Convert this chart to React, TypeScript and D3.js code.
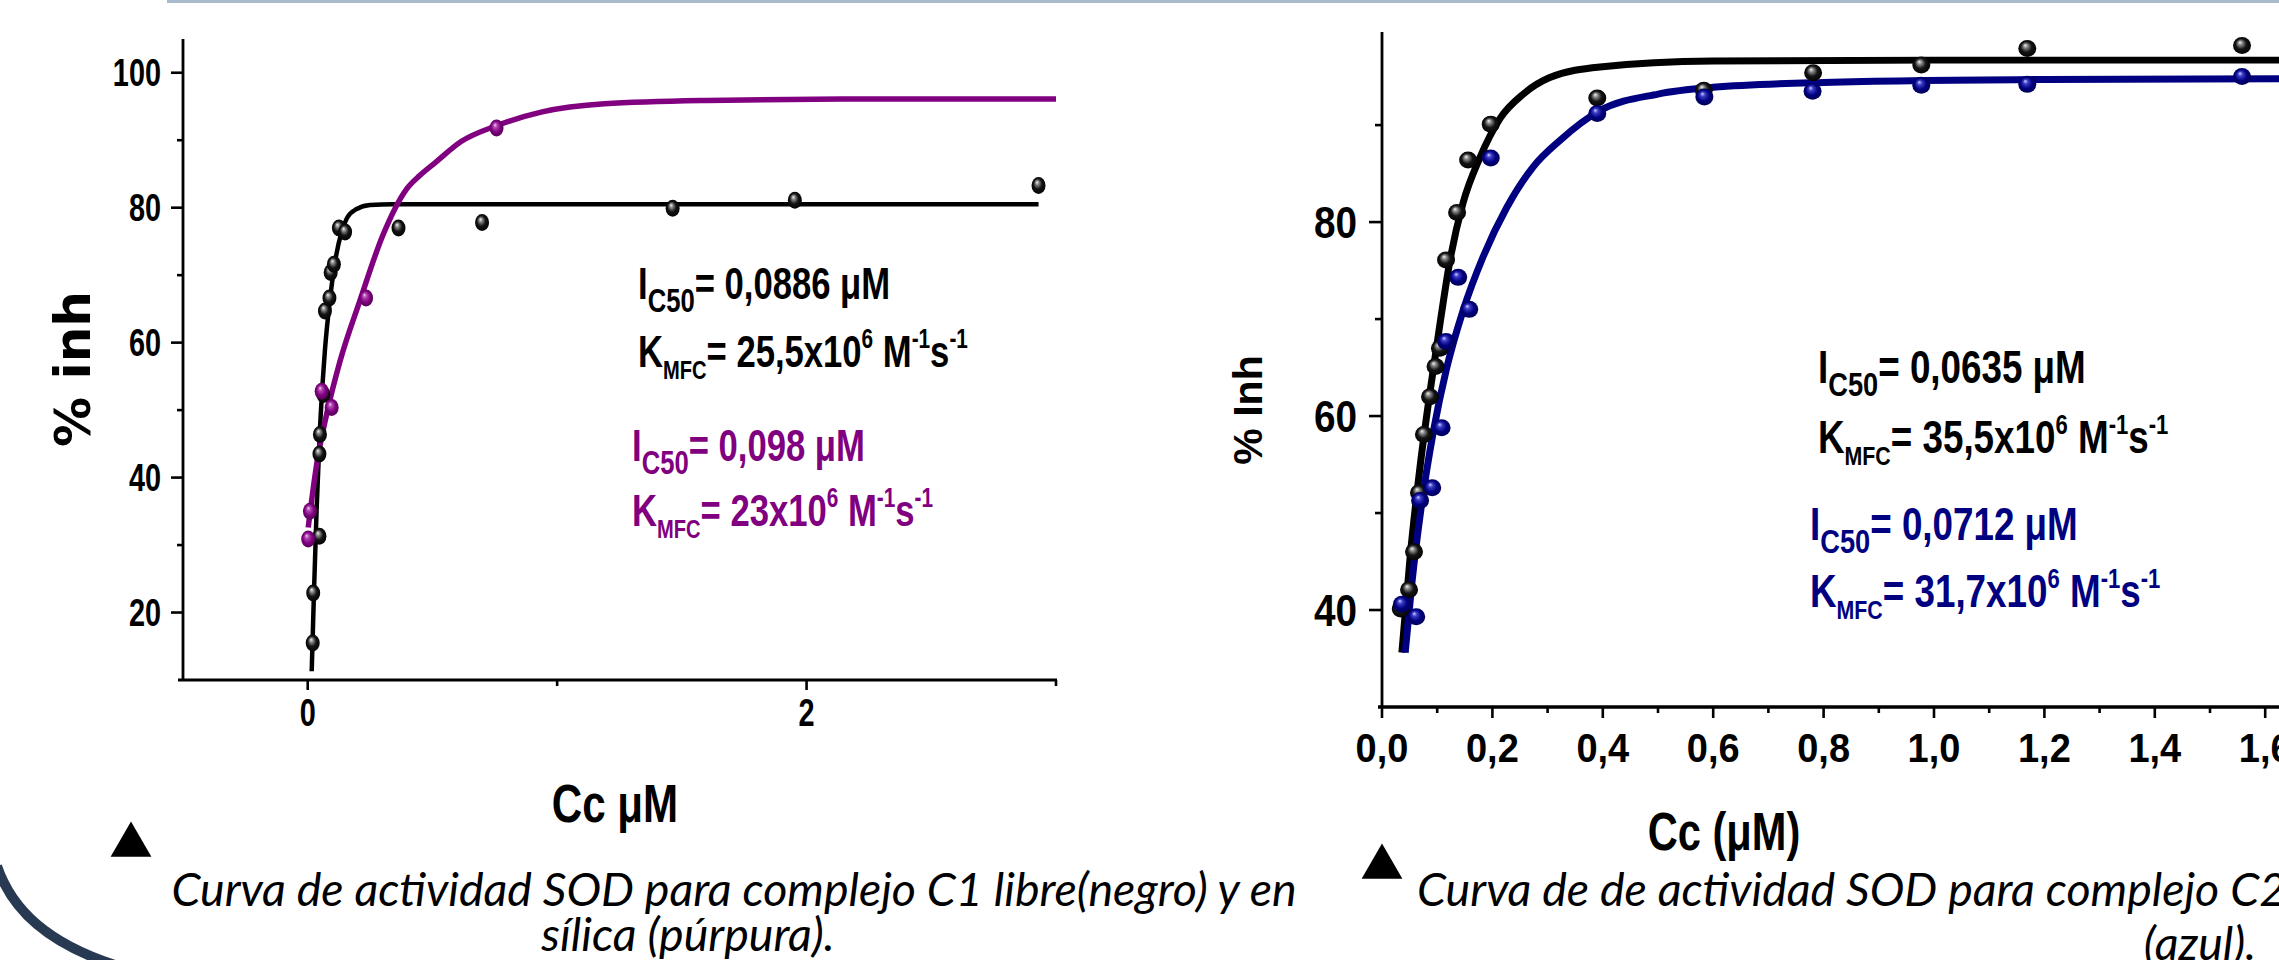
"use client";

import * as d3 from "d3";
import { useEffect, useRef } from "react";

const WIDTH = 2279;
const HEIGHT = 960;
const SANS = "'Liberation Sans', Arial, sans-serif";
const WIDE = "'DejaVu Sans', Verdana, sans-serif";
const CAPTION = "Lato, 'Open Sans', sans-serif";

type Pt = [number, number];
type Part = [string, "base" | "sub" | "small" | "sup"];

// ---- left panel: complejo C1 libre (negro) y en sílica (púrpura)
const leftXMajor = [0, 2];
const leftXMinor = [1, 3];
const leftYMajor = [20, 40, 60, 80, 100];
const leftYMinor = [30, 50, 70, 90];

const c1FreePoints: Pt[] = [
  [0.02, 15.5], [0.022, 22.9], [0.047, 31.3], [0.047, 43.5], [0.049, 46.4],
  [0.063, 52.3], [0.069, 64.7], [0.087, 66.6], [0.092, 70.4], [0.105, 71.6],
  [0.125, 77.0], [0.15, 76.4], [0.364, 77.0], [0.699, 77.8], [1.463, 79.9],
  [1.953, 81.1], [2.93, 83.3],
];
const c1FreeFit: Pt[] = [
  [0.016, 11.3], [0.025, 22.9], [0.036, 35.6], [0.049, 47.2], [0.069, 58.9],
  [0.089, 66.3], [0.113, 72.7], [0.136, 76.4], [0.158, 78.5], [0.196, 79.8],
  [0.25, 80.4], [0.34, 80.5], [2.93, 80.5],
];
const c1SilicaPoints: Pt[] = [
  [0.002, 30.9], [0.009, 35.0], [0.056, 52.8], [0.096, 50.4], [0.234, 66.6],
  [0.757, 91.8],
];
const c1SilicaFit: Pt[] = [
  [0.002, 32.6], [0.036, 42.0], [0.076, 49.4], [0.13, 57.3], [0.21, 66.3],
  [0.3, 75.8], [0.397, 82.8], [0.45, 84.8], [0.515, 86.8], [0.615, 89.8],
  [0.761, 92.2], [0.94, 94.2], [1.19, 95.4], [1.6, 95.9], [2.2, 96.1], [3.0, 96.1],
];

const c1FreeNote: Part[][] = [
  [["I", "base"], ["C50", "sub"], ["= 0,0886 μM", "base"]],
  [["K", "base"], ["MFC", "small"], ["= 25,5x10", "base"], ["6", "sup"], [" M", "base"], ["-1", "sup"], ["s", "base"], ["-1", "sup"]],
];
const c1SilicaNote: Part[][] = [
  [["I", "base"], ["C50", "sub"], ["= 0,098 μM", "base"]],
  [["K", "base"], ["MFC", "small"], ["= 23x10", "base"], ["6", "sup"], [" M", "base"], ["-1", "sup"], ["s", "base"], ["-1", "sup"]],
];

// ---- right panel: complejo C2 libre (negro) y en sílica (azul)
const rightXMajor = [0, 0.2, 0.4, 0.6, 0.8, 1.0, 1.2, 1.4, 1.6];
const rightXMinor = [0.1, 0.3, 0.5, 0.7, 0.9, 1.1, 1.3, 1.5, 1.7];
const rightYMajor = [40, 60, 80];
const rightYMinor = [50, 70, 90];

const c2FreePoints: Pt[] = [
  [0.034, 40.1], [0.049, 42.1], [0.058, 46.0], [0.067, 52.1], [0.076, 58.1],
  [0.087, 62.0], [0.097, 65.1], [0.105, 67.0], [0.116, 76.1], [0.136, 81.0],
  [0.156, 86.4], [0.197, 90.1], [0.39, 92.8], [0.583, 93.6], [0.781, 95.4],
  [0.977, 96.2], [1.169, 97.9], [1.558, 98.2],
];
const c2FreeFit: Pt[] = [
  [0.036, 35.6], [0.051, 45.5], [0.069, 54.8], [0.087, 62.5], [0.105, 69.5],
  [0.123, 76.0], [0.147, 82.0], [0.177, 86.6], [0.214, 90.7], [0.256, 93.2],
  [0.304, 94.9], [0.395, 96.0], [0.6, 96.6], [1.0, 96.7], [1.7, 96.7],
];
const c2SilicaPoints: Pt[] = [
  [0.036, 40.6], [0.062, 39.3], [0.069, 51.3], [0.091, 52.6], [0.108, 58.8],
  [0.116, 67.7], [0.138, 74.3], [0.158, 71.0], [0.197, 86.6], [0.39, 91.2],
  [0.584, 92.9], [0.78, 93.5], [0.977, 94.1], [1.169, 94.2], [1.558, 95.0],
];
const c2SilicaFit: Pt[] = [
  [0.042, 35.6], [0.054, 42.7], [0.072, 51.0], [0.093, 58.4], [0.117, 64.9],
  [0.147, 70.9], [0.183, 76.4], [0.226, 81.5], [0.274, 85.7], [0.322, 88.4],
  [0.395, 91.5], [0.5, 93.2], [0.6, 93.9], [0.8, 94.4], [1.2, 94.7], [1.7, 94.8],
];

const c2FreeNote: Part[][] = [
  [["I", "base"], ["C50", "sub"], ["= 0,0635 μM", "base"]],
  [["K", "base"], ["MFC", "small"], ["= 35,5x10", "base"], ["6", "sup"], [" M", "base"], ["-1", "sup"], ["s", "base"], ["-1", "sup"]],
];
const c2SilicaNote: Part[][] = [
  [["I", "base"], ["C50", "sub"], ["= 0,0712 μM", "base"]],
  [["K", "base"], ["MFC", "small"], ["= 31,7x10", "base"], ["6", "sup"], [" M", "base"], ["-1", "sup"], ["s", "base"], ["-1", "sup"]],
];

const captionLeft = [
  "Curva de actividad SOD para complejo C1 libre(negro) y en",
  "sílica (púrpura).",
];
const captionRight = [
  "Curva de de actividad SOD para complejo C2 libre(negro) y en sílica",
  "(azul).",
];

const partStyle = {
  base: { k: 1, dy: 0 },
  sub: { k: 0.74, dy: 0.28 },
  small: { k: 0.58, dy: 0.26 },
  sup: { k: 0.6, dy: -0.42 },
};

const commaFmt = (v: number) => v.toFixed(1).replace(".", ",");

export default function App() {
  const svgRef = useRef<SVGSVGElement>(null);

  useEffect(() => {
    if (!svgRef.current) return;
    const svg = d3.select(svgRef.current);
    svg.selectAll("*").remove();

    // shiny ball markers
    const defs = svg.append("defs");
    const ball = (id: string, stops: [number, string][]) => {
      const g = defs
        .append("radialGradient")
        .attr("id", id)
        .attr("cx", "50%")
        .attr("cy", "50%")
        .attr("r", "55%")
        .attr("fx", "38%")
        .attr("fy", "30%");
      stops.forEach(([o, c]) => g.append("stop").attr("offset", `${o}%`).attr("stop-color", c));
    };
    ball("ballBlack", [[0, "#f4f4f4"], [22, "#8a8a8a"], [55, "#141414"], [100, "#000"]]);
    ball("ballPurple", [[0, "#f2cdf2"], [25, "#b044b0"], [60, "#800080"], [100, "#4c004c"]]);
    ball("ballBlue", [[0, "#cfcfff"], [25, "#3a3ac4"], [60, "#000080"], [100, "#00004c"]]);

    // page decoration
    svg
      .append("line")
      .attr("x1", 167)
      .attr("x2", WIDTH)
      .attr("y1", 1.5)
      .attr("y2", 1.5)
      .attr("stroke", "#a9bacb")
      .attr("stroke-width", 3);
    svg
      .append("path")
      .attr("d", "M -3 866 C 12 910, 48 944, 118 966")
      .attr("fill", "none")
      .attr("stroke", "#273a52")
      .attr("stroke-width", 10);

    const label = (
      x: number,
      y: number,
      text: string,
      size: number,
      sx: number,
      anchor: string,
      family = SANS
    ) =>
      svg
        .append("text")
        .attr("transform", `translate(${x},${y}) scale(${sx},1)`)
        .attr("text-anchor", anchor)
        .attr("font-family", family)
        .attr("font-weight", 700)
        .attr("font-size", size)
        .attr("fill", "#000")
        .text(text);

    const note = (x: number, y: number, size: number, sx: number, color: string, parts: Part[]) => {
      const t = svg
        .append("text")
        .attr("transform", `translate(${x},0) scale(${sx},1)`)
        .attr("font-family", SANS)
        .attr("font-weight", 700)
        .attr("fill", color);
      parts.forEach(([s, role]) => {
        const st = partStyle[role];
        t.append("tspan")
          .attr("y", y + st.dy * size)
          .attr("font-size", size * st.k)
          .text(s);
      });
    };

    const fitLine = (
      data: Pt[],
      x: d3.ScaleLinear<number, number>,
      y: d3.ScaleLinear<number, number>,
      color: string,
      w: number
    ) =>
      svg
        .append("path")
        .datum(data)
        .attr("fill", "none")
        .attr("stroke", color)
        .attr("stroke-width", w)
        .attr("stroke-linecap", "butt")
        .attr(
          "d",
          d3
            .line<Pt>()
            .x((d) => x(d[0]))
            .y((d) => y(d[1]))
            .curve(d3.curveMonotoneX)
        );

    const dots = (
      data: Pt[],
      x: d3.ScaleLinear<number, number>,
      y: d3.ScaleLinear<number, number>,
      fill: string,
      rx: number,
      ry: number
    ) =>
      svg
        .append("g")
        .selectAll("ellipse")
        .data(data)
        .enter()
        .append("ellipse")
        .attr("cx", (d) => x(d[0]))
        .attr("cy", (d) => y(d[1]))
        .attr("rx", rx)
        .attr("ry", ry)
        .attr("fill", `url(#${fill})`);

    // ===================== left panel =====================
    const xL = d3.scaleLinear().domain([-0.5, 3]).range([183, 1056]);
    const yL = d3.scaleLinear().domain([10, 105]).range([680, 39]);

    const axes = svg.append("g").attr("stroke", "#000").attr("fill", "none");
    axes.append("line").attr("x1", xL(-0.5)).attr("x2", xL(-0.5)).attr("y1", yL(105)).attr("y2", yL(10) + 1).attr("stroke-width", 2.8);
    axes.append("line").attr("x1", xL(-0.5) - 5).attr("x2", xL(3) + 1).attr("y1", yL(10)).attr("y2", yL(10)).attr("stroke-width", 3.2);
    leftYMajor.forEach((v) =>
      axes.append("line").attr("x1", xL(-0.5) - 12).attr("x2", xL(-0.5)).attr("y1", yL(v)).attr("y2", yL(v)).attr("stroke-width", 2.6)
    );
    leftYMinor.forEach((v) =>
      axes.append("line").attr("x1", xL(-0.5) - 6).attr("x2", xL(-0.5)).attr("y1", yL(v)).attr("y2", yL(v)).attr("stroke-width", 2.6)
    );
    leftXMajor.forEach((v) =>
      axes.append("line").attr("x1", xL(v)).attr("x2", xL(v)).attr("y1", yL(10)).attr("y2", yL(10) + 10).attr("stroke-width", 2.6)
    );
    leftXMinor.forEach((v) =>
      axes.append("line").attr("x1", xL(v)).attr("x2", xL(v)).attr("y1", yL(10)).attr("y2", yL(10) + 6).attr("stroke-width", 2.6)
    );
    leftYMajor.forEach((v) => label(161, yL(v) + 13.5, String(v), 38, 0.76, "end"));
    leftXMajor.forEach((v) => label(xL(v), 726, String(v), 38, 0.76, "middle"));

    svg
      .append("text")
      .attr("transform", `translate(90,369) rotate(-90)`)
      .attr("text-anchor", "middle")
      .attr("font-family", WIDE)
      .attr("font-weight", 700)
      .attr("font-size", 50)
      .text("% inh");
    label(615, 822, "Cc μM", 54, 0.78, "middle");

    fitLine(c1FreeFit, xL, yL, "#000", 4.5);
    fitLine(c1SilicaFit, xL, yL, "#800080", 5.5);
    dots(c1FreePoints, xL, yL, "ballBlack", 7, 8.5);
    dots(c1SilicaPoints, xL, yL, "ballPurple", 7, 8.5);

    note(638, 299, 45, 0.77, "#000", c1FreeNote[0]);
    note(638, 367, 45, 0.77, "#000", c1FreeNote[1]);
    note(632, 461, 45, 0.77, "#800080", c1SilicaNote[0]);
    note(632, 526, 45, 0.77, "#800080", c1SilicaNote[1]);

    // ===================== right panel =====================
    const xR = d3.scaleLinear().domain([0, 1.7]).range([1382, 1382 + 1.7 * 552]);
    const yR = d3.scaleLinear().domain([30, 99.6]).range([707, 32]);

    axes.append("line").attr("x1", xR(0)).attr("x2", xR(0)).attr("y1", yR(99.6)).attr("y2", yR(30) + 1).attr("stroke-width", 2.8);
    axes.append("line").attr("x1", xR(0) - 4).attr("x2", WIDTH).attr("y1", yR(30)).attr("y2", yR(30)).attr("stroke-width", 3.6);
    rightYMajor.forEach((v) =>
      axes.append("line").attr("x1", xR(0) - 13).attr("x2", xR(0)).attr("y1", yR(v)).attr("y2", yR(v)).attr("stroke-width", 2.6)
    );
    rightYMinor.forEach((v) =>
      axes.append("line").attr("x1", xR(0) - 7).attr("x2", xR(0)).attr("y1", yR(v)).attr("y2", yR(v)).attr("stroke-width", 2.6)
    );
    rightXMajor.forEach((v) =>
      axes.append("line").attr("x1", xR(v)).attr("x2", xR(v)).attr("y1", yR(30)).attr("y2", yR(30) + 11).attr("stroke-width", 2.6)
    );
    rightXMinor.forEach((v) =>
      axes.append("line").attr("x1", xR(v)).attr("x2", xR(v)).attr("y1", yR(30)).attr("y2", yR(30) + 6).attr("stroke-width", 2.6)
    );
    rightYMajor.forEach((v) => label(1357, yR(v) + 15.5, String(v), 44, 0.88, "end"));
    rightXMajor.forEach((v) => label(xR(v), 762, commaFmt(v), 40, 0.95, "middle"));

    svg
      .append("text")
      .attr("transform", `translate(1262,410) rotate(-90)`)
      .attr("text-anchor", "middle")
      .attr("font-family", SANS)
      .attr("font-weight", 700)
      .attr("font-size", 41)
      .text("% Inh");
    label(1724, 850, "Cc (μM)", 54, 0.77, "middle");

    fitLine(c2FreeFit, xR, yR, "#000", 7);
    fitLine(c2SilicaFit, xR, yR, "#000080", 7);
    dots(c2FreePoints, xR, yR, "ballBlack", 9, 8.5);
    dots(c2SilicaPoints, xR, yR, "ballBlue", 9, 8.5);

    note(1818, 383, 46, 0.8, "#000", c2FreeNote[0]);
    note(1818, 453, 46, 0.8, "#000", c2FreeNote[1]);
    note(1810, 540, 46, 0.8, "#000080", c2SilicaNote[0]);
    note(1810, 607, 46, 0.8, "#000080", c2SilicaNote[1]);

    // ===================== markers + captions =====================
    const tri = d3.symbol().type(d3.symbolTriangle).size(720);
    svg.append("path").attr("d", tri()).attr("transform", "translate(131,845)").attr("fill", "#000");
    svg.append("path").attr("d", tri()).attr("transform", "translate(1382,867)").attr("fill", "#000");

    const cap = (x: number, y: number, text: string, anchor: string) =>
      svg
        .append("text")
        .attr("x", x)
        .attr("y", y)
        .attr("text-anchor", anchor)
        .attr("font-family", CAPTION)
        .attr("font-style", "italic")
        .attr("font-size", 46.5)
        .attr("fill", "#000")
        .text(text);
    cap(734, 906, captionLeft[0], "middle");
    cap(688, 951, captionLeft[1], "middle");
    cap(1417, 906, captionRight[0], "start");
    cap(2200, 960, captionRight[1], "middle");
  }, []);

  return (
    <div style={{ position: "absolute", left: 0, top: 0, width: WIDTH, height: HEIGHT, background: "#fff" }}>
      <svg ref={svgRef} width={WIDTH} height={HEIGHT} style={{ display: "block" }} />
    </div>
  );
}
